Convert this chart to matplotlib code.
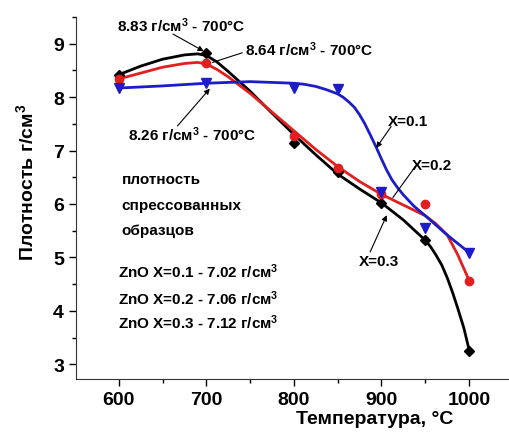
import matplotlib
matplotlib.use("Agg")
import matplotlib.pyplot as plt
from matplotlib.ticker import MultipleLocator

plt.rcParams['font.family'] = ['Liberation Sans', 'DejaVu Sans']
plt.rcParams['mathtext.default'] = 'regular'

# measured points
temps = [600, 700, 800, 850, 900, 950, 1000]
dens_x01 = [8.17, 8.26, 8.18, 8.15, 6.23, 5.55, 5.09]
dens_x02 = [8.34, 8.64, 7.27, 6.68, 6.18, 6.00, 4.55]
dens_x03 = [8.42, 8.83, 7.14, 6.60, 6.02, 5.33, 3.25]

# smoothed curves
fit_t03 = [600, 625, 650, 675, 690, 700, 712, 725, 750, 775, 800, 825, 850, 875, 900, 925,
           950, 956, 962, 969, 975, 981, 987, 994, 1000]
fit_x03 = [8.42, 8.58, 8.71, 8.79, 8.81, 8.78, 8.66, 8.48, 8.11, 7.70, 7.30, 6.92, 6.56, 6.28, 6.02, 5.70,
           5.32, 5.20, 5.05, 4.85, 4.62, 4.35, 4.05, 3.68, 3.27]
fit_t02 = [600, 625, 650, 675, 690, 700, 712, 725, 750, 775, 800, 825, 850, 875, 900, 925,
           950, 962, 975, 987, 1000]
fit_x02 = [8.34, 8.45, 8.56, 8.63, 8.65, 8.62, 8.52, 8.38, 8.07, 7.72, 7.37, 7.02, 6.70, 6.42, 6.18, 5.98,
           5.78, 5.63, 5.42, 5.05, 4.57]
fit_t01 = [600, 650, 700, 750, 800, 812, 825, 837, 850, 856, 862, 869, 875, 881, 887, 894, 900,
           906, 912, 919, 925, 937, 950, 975, 1000]
fit_x01 = [8.17, 8.21, 8.26, 8.29, 8.26, 8.24, 8.20, 8.14, 8.06, 8.00, 7.92, 7.81, 7.67, 7.50, 7.30, 7.06, 6.84,
           6.63, 6.45, 6.29, 6.17, 5.96, 5.78, 5.42, 5.09]

black = '#000000'
red = '#e31e1e'
blue = '#1c1cc8'

fig = plt.figure(figsize=(5.09, 4.39), dpi=100)
ax = fig.add_axes([0.149, 0.134, 0.85, 0.825])

ax.plot(fit_t03, fit_x03, color=black, lw=2)
ax.plot(fit_t02, fit_x02, color=red, lw=2)
ax.plot(fit_t01, fit_x01, color=blue, lw=2)
ax.plot(temps, dens_x03, 'D', color=black, ms=5, zorder=3)
ax.plot(temps, dens_x02, 'o', color=red, ms=6, zorder=3)
ax.plot(temps, dens_x01, 'v', color=blue, ms=6.5, zorder=3)

ax.set_xlim(551, 1045)
ax.set_ylim(2.72, 9.5)
ax.xaxis.set_major_locator(MultipleLocator(100))
ax.xaxis.set_minor_locator(MultipleLocator(50))
ax.yaxis.set_major_locator(MultipleLocator(1))
ax.yaxis.set_minor_locator(MultipleLocator(0.5))
ax.tick_params(which='major', direction='out', length=5, width=1, labelsize=14)
ax.tick_params(which='minor', direction='out', length=3, width=1)
for lab in ax.get_xticklabels() + ax.get_yticklabels():
    lab.set_fontweight('bold')
ax.spines['top'].set_visible(False)
ax.spines['right'].set_visible(False)
for s in ['left', 'bottom']:
    ax.spines[s].set_color('#333333')

ax.set_xlabel('Температура, °C', fontsize=14, fontweight='bold')
ax.xaxis.set_label_coords(0.691, -0.085)
ax.set_ylabel('Плотность г/см$^3$', fontsize=14, fontweight='bold')
ax.yaxis.set_label_coords(-0.09, 0.547)

arr = dict(arrowstyle='-|>', color='black', lw=0.8, mutation_scale=8, shrinkA=0, shrinkB=0)
tfs = 11
ax.text(598, 9.23, '8.83 г/см$^3$ - 700°C', fontsize=tfs, fontweight='bold')
ax.annotate('', xy=(697, 8.86), xytext=(662, 9.18), arrowprops=arr)
ax.text(744, 8.78, '8.64 г/см$^3$ - 700°C', fontsize=tfs, fontweight='bold')
ax.annotate('', xy=(707, 8.65), xytext=(741, 8.83), arrowprops=dict(arr, arrowstyle='-'))
ax.text(610, 7.2, '8.26 г/см$^3$ - 700°C', fontsize=tfs, fontweight='bold')
ax.annotate('', xy=(704, 8.16), xytext=(667, 7.46), arrowprops=arr)

ax.text(907, 7.48, 'X=0.1', fontsize=tfs, fontweight='bold')
ax.annotate('', xy=(894, 7.05), xytext=(911, 7.45), arrowprops=arr)
ax.text(935, 6.66, 'X=0.2', fontsize=tfs, fontweight='bold')
ax.annotate('', xy=(913, 6.12), xytext=(939, 6.71), arrowprops=dict(arr, arrowstyle='-'))
ax.text(874, 4.85, 'X=0.3', fontsize=tfs, fontweight='bold')
ax.annotate('', xy=(906, 5.79), xytext=(887, 5.1), arrowprops=arr)

for txt, yv in [('плотность', 6.4), ('спрессованных', 5.9), ('образцов', 5.43)]:
    ax.text(603, yv, txt, fontsize=tfs, fontweight='bold')
for txt, yv in [('ZnO X=0.1 - 7.02 г/см$^3$', 4.63), ('ZnO X=0.2 - 7.06 г/см$^3$', 4.13),
                ('ZnO X=0.3 - 7.12 г/см$^3$', 3.68)]:
    ax.text(599, yv, txt, fontsize=tfs, fontweight='bold')

fig.savefig('out.png', dpi=100)
